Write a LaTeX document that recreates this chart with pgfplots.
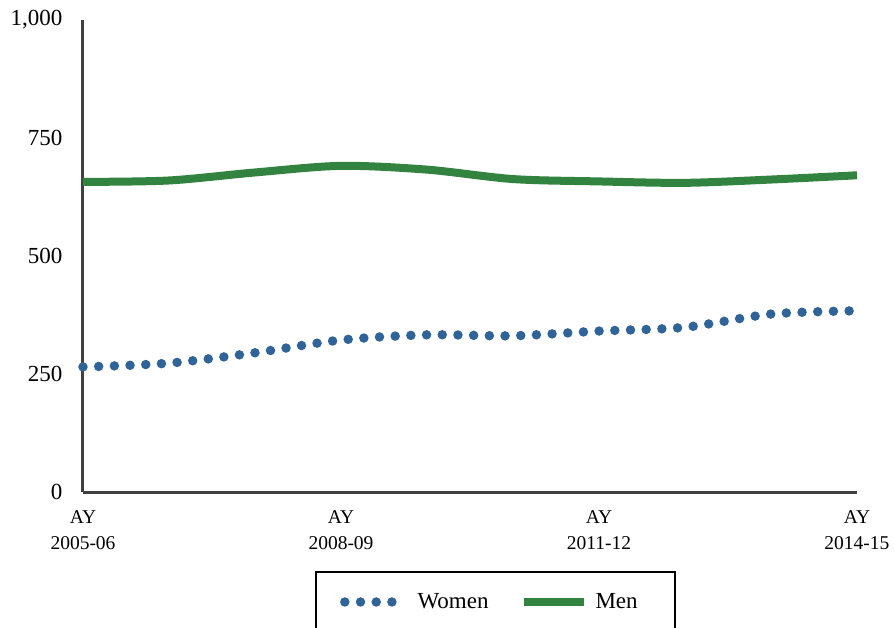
\documentclass[border=0pt]{standalone}
\usepackage{pgfplots}
\pgfplotsset{compat=1.18}
\usepackage{fontspec}
\setmainfont{Liberation Serif}
\definecolor{menc}{RGB}{49,131,63}
\definecolor{womc}{RGB}{48,100,153}
\definecolor{axc}{RGB}{64,64,64}
\begin{document}
\begin{tikzpicture}
\begin{axis}[
  scale only axis, width=774pt, height=472pt,
  xmin=0, xmax=9, ymin=0, ymax=1000,
  axis x line=bottom, axis y line=left,
  axis line style={-, line width=3pt, color=axc},
  major tick length=0pt,
  xtick={0,3,6,9},
  xticklabels={{AY\\2005-06},{AY\\2008-09},{AY\\2011-12},{AY\\2014-15}},
  xticklabel style={align=center, yshift=-15pt, font=\fontsize{19.5}{26}\selectfont},
  ytick={0,250,500,750,1000},
  yticklabel style={xshift=-17pt, font=\fontsize{23}{26}\selectfont},
  /pgf/number format/assume math mode=true,
  /pgf/number format/1000 sep={,},
  clip=false,
  legend columns=2,
  legend style={draw=none, fill=none, font=\fontsize{23}{26}\selectfont,
    at={(0.328,-0.233)}, anchor=west,
    /tikz/every even column/.append style={column sep=29pt},
    /tikz/every odd column/.append style={column sep=6pt}},
  legend image code/.code={\draw[#1] (0pt,0pt) -- (60pt,0pt);},
]
\addplot[color=womc, line width=9.5pt, line cap=round, dash pattern=on 0pt off 15.7pt, smooth, tension=0.5] coordinates {
  (0,265) (1,273) (2,295) (3,322) (4,333) (5,331) (6,341) (7,349) (8,377) (9,384)
};
\addlegendentry{Women}
\addplot[color=menc, line width=8pt, smooth, tension=0.5] coordinates {
  (0,657) (1,660) (2,677) (3,691) (4,683) (5,663) (6,658) (7,655) (8,662) (9,671)
};
\addlegendentry{Men}
\coordinate (O) at (rel axis cs:0,0);
\end{axis}
\pgfresetboundingbox
\begin{scope}[shift={(O)}, x=1pt, y=1pt]
\useasboundingbox (-83,-135) rectangle (811,492);
\draw[line width=2pt, black] (233,-180) rectangle (592,-80);
\end{scope}
\end{tikzpicture}
\end{document}
